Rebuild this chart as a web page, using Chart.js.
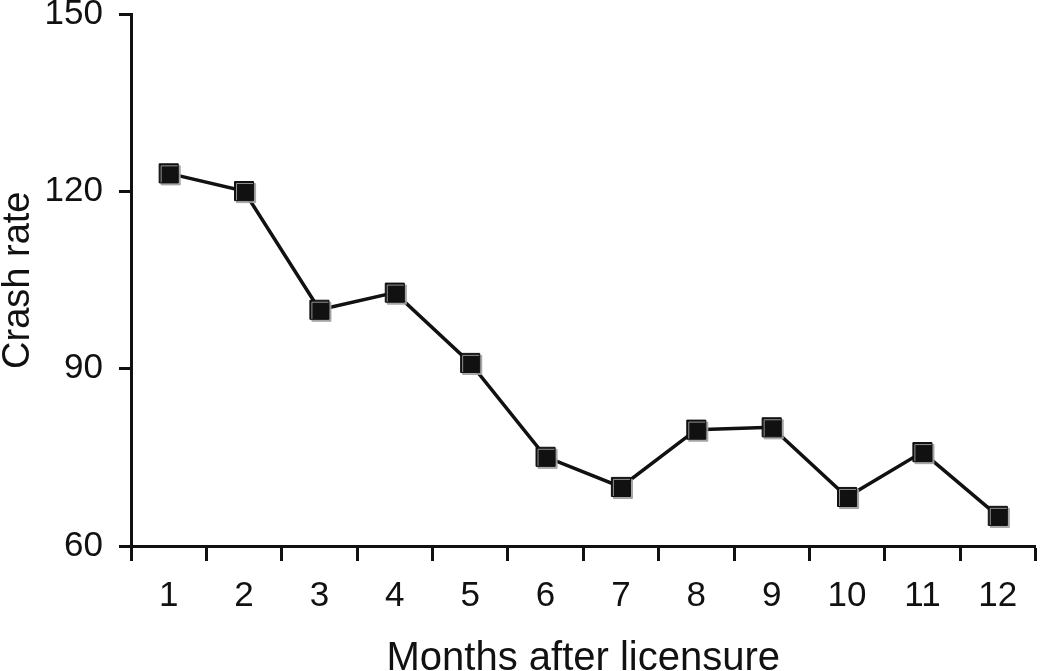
<!DOCTYPE html>
<html>
<head>
<meta charset="utf-8">
<script src="https://cdn.jsdelivr.net/npm/chart.js@4.4.1/dist/chart.umd.min.js"></script>
<style>
  html, body { margin: 0; padding: 0; background: #ffffff; }
  #wrap { width: 1050px; height: 671px; position: relative; }
</style>
</head>
<body>
<div id="wrap"><canvas id="c" width="1050" height="671"></canvas></div>
<script>
const months = ['1','2','3','4','5','6','7','8','9','10','11','12'];
const crashRate = [123.1, 120.1, 100.0, 102.9, 91.0, 75.1, 70.0, 79.7, 80.1, 68.3, 75.9, 65.1];
const yTicks = [60, 90, 120, 150];
const xTitle = 'Months after licensure';
const yTitle = 'Crash rate';

const ink = '#111111';
const fontFamily = '"Liberation Sans", Arial, Helvetica, sans-serif';

const shadowPlugin = {
  id: 'markerShadow',
  beforeDatasetDraw(chart, args) {
    if (args.index === 1) {
      const ctx = chart.ctx;
      ctx.save();
      ctx.shadowColor = 'rgba(160,160,160,0.9)';
      ctx.shadowOffsetX = 2;
      ctx.shadowOffsetY = 2;
      ctx.shadowBlur = 0;
    }
  },
  afterDatasetDraw(chart, args) {
    if (args.index === 1) chart.ctx.restore();
  }
};

new Chart(document.getElementById('c'), {
  type: 'line',
  data: {
    labels: months,
    datasets: [
      {
        data: crashRate,
        borderColor: ink,
        borderWidth: 3.5,
        pointRadius: 0,
        fill: false,
        tension: 0,
        order: 2
      },
      {
        data: crashRate,
        showLine: false,
        pointStyle: 'rect',
        pointRadius: 13.5,
        pointBackgroundColor: ink,
        pointBorderColor: ink,
        pointBorderWidth: 1,
        order: 1
      }
    ]
  },
  plugins: [shadowPlugin],
  options: {
    responsive: false,
    animation: false,
    devicePixelRatio: 1,
    layout: { padding: { top: 14, right: 2, left: 0, bottom: 0 } },
    plugins: { legend: { display: false }, tooltip: { enabled: false } },
    scales: {
      x: {
        type: 'category',
        offset: true,
        afterFit(scale) {
          scale.height = 125;
          scale.paddingLeft = 0;
          scale.paddingRight = 0;
        },
        grid: {
          offset: true,
          drawOnChartArea: false,
          drawTicks: true,
          tickLength: 15,
          tickWidth: 3,
          color: ink
        },
        border: { display: true, color: ink, width: 3 },
        ticks: {
          color: ink,
          font: { family: fontFamily, size: 35, lineHeight: 1 },
          padding: 18,
          maxRotation: 0
        },
        title: {
          display: true,
          text: xTitle,
          color: ink,
          font: { family: fontFamily, size: 40, lineHeight: 1 },
          padding: { top: 0, bottom: -8 }
        }
      },
      y: {
        min: 60,
        max: 150,
        afterBuildTicks(scale) { scale.ticks = yTicks.map(v => ({ value: v })); },
        afterFit(scale) {
          scale.width = 131;
          scale.paddingTop = 0;
          scale.paddingBottom = 0;
        },
        grid: {
          drawOnChartArea: false,
          drawTicks: true,
          tickLength: 12,
          tickWidth: 3,
          color: ink
        },
        border: { display: true, color: ink, width: 3 },
        ticks: {
          color: ink,
          font: { family: fontFamily, size: 35, lineHeight: 1 },
          padding: 16
        },
        title: {
          display: true,
          text: yTitle,
          color: ink,
          font: { family: fontFamily, size: 38, lineHeight: 1 },
          padding: { top: 0, bottom: 10 }
        }
      }
    }
  }
});
</script>
</body>
</html>
